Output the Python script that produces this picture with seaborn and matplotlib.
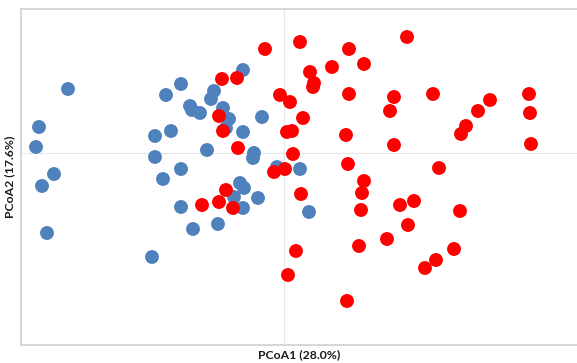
import numpy as np
import pandas as pd
import matplotlib
matplotlib.use("Agg")
import matplotlib.pyplot as plt
import seaborn as sns

# PCoA scores (axis 1, axis 2) for the two sample groups
group_a_pc1 = [-0.216, -0.245, -0.248, -0.230, -0.242, -0.237, -0.132,
               -0.103, -0.118, -0.041, -0.070, -0.073, -0.094, -0.092,
               -0.084, -0.061, -0.055, -0.058, -0.041, -0.022, -0.113,
               -0.129, -0.077, -0.030, -0.031, -0.129, -0.103, -0.121,
               -0.007, 0.016, -0.044, -0.040, -0.050, -0.026, -0.041,
               -0.103, -0.066, -0.091, 0.025]
group_a_pc2 = [0.064, 0.026, 0.006, -0.021, -0.033, -0.080, -0.104,
               0.069, 0.058, 0.083, 0.062, 0.054, 0.047, 0.043,
               0.040, 0.045, 0.034, 0.025, 0.021, 0.036, 0.022,
               0.017, 0.003, 0.000, -0.005, -0.004, -0.016, -0.026,
               -0.014, -0.016, -0.030, -0.035, -0.044, -0.045, -0.055,
               -0.054, -0.071, -0.076, -0.059]

group_b_pc1 = [-0.019, -0.062, -0.047, -0.065, -0.061, -0.046, -0.004,
               0.006, 0.003, 0.008, 0.019, 0.009, -0.010, 0.001,
               0.016, 0.065, 0.123, 0.026, 0.048, 0.080, 0.030,
               0.029, 0.065, 0.110, 0.149, 0.106, 0.206, 0.194,
               0.245, 0.246, 0.062, 0.182, 0.177, 0.110, 0.247,
               0.064, 0.155, 0.080, 0.078, 0.017, 0.077, 0.116,
               0.130, 0.124, 0.176, 0.012, 0.004, 0.075, 0.103,
               0.170, 0.152, 0.141, 0.063, -0.058, -0.065, -0.082,
               -0.051]
group_b_pc2 = [0.104, 0.074, 0.075, 0.037, 0.022, 0.005, 0.058,
               0.051, 0.021, 0.022, 0.035, -0.001, -0.019, -0.016,
               0.111, 0.104, 0.116, 0.081, 0.086, 0.089, 0.070,
               0.066, 0.059, 0.056, 0.059, 0.042, 0.053, 0.042,
               0.059, 0.040, 0.018, 0.027, 0.019, 0.008, 0.009,
               -0.011, -0.015, -0.028, -0.040, -0.041, -0.057, -0.052,
               -0.048, -0.072, -0.058, -0.098, -0.122, -0.093, -0.086,
               -0.096, -0.107, -0.115, -0.148, -0.037, -0.049, -0.052,
               -0.055]

group_names = ["Group A", "Group B"]
group_colors = ["#4F81BD", "#FF0000"]
x_label = "PCoA1 (28.0%)"
y_label = "PCoA2 (17.6%)"

df = pd.DataFrame({
    "PCoA1": group_a_pc1 + group_b_pc1,
    "PCoA2": group_a_pc2 + group_b_pc2,
    "group": [group_names[0]] * len(group_a_pc1) + [group_names[1]] * len(group_b_pc1),
})

sns.set_theme(style="white")
plt.rcParams["font.family"] = ["Lato", "DejaVu Sans"]

W, H = 577, 363
fig = plt.figure(figsize=(W / 100, H / 100), dpi=100)
ax = fig.add_axes([21 / W, (H - 345) / H, (W - 21) / W, (345 - 9) / H])

# light zero lines crossing at the origin
ax.axhline(0, color="#E6E6E6", lw=0.8, zorder=0)
ax.axvline(0, color="#E6E6E6", lw=0.8, zorder=0)

sns.scatterplot(data=df, x="PCoA1", y="PCoA2", hue="group",
                hue_order=group_names, palette=group_colors,
                s=100, linewidth=0, alpha=1, legend=False, ax=ax, zorder=3)

ax.set_xlim(-0.263, 0.293)
ax.set_ylim(-0.192, 0.144)
ax.set_xticks([])
ax.set_yticks([])

for side in ["left", "top", "bottom"]:
    ax.spines[side].set_color("#D0D0D0")
    ax.spines[side].set_linewidth(1.2)
ax.spines["right"].set_visible(False)

ax.set_xlabel(x_label, fontsize=8.8, fontweight="bold", color="#1A1A1A", labelpad=3)
ax.set_ylabel(y_label, fontsize=8.8, fontweight="bold", color="#1A1A1A", labelpad=4)

fig.savefig("out.png", dpi=100)
